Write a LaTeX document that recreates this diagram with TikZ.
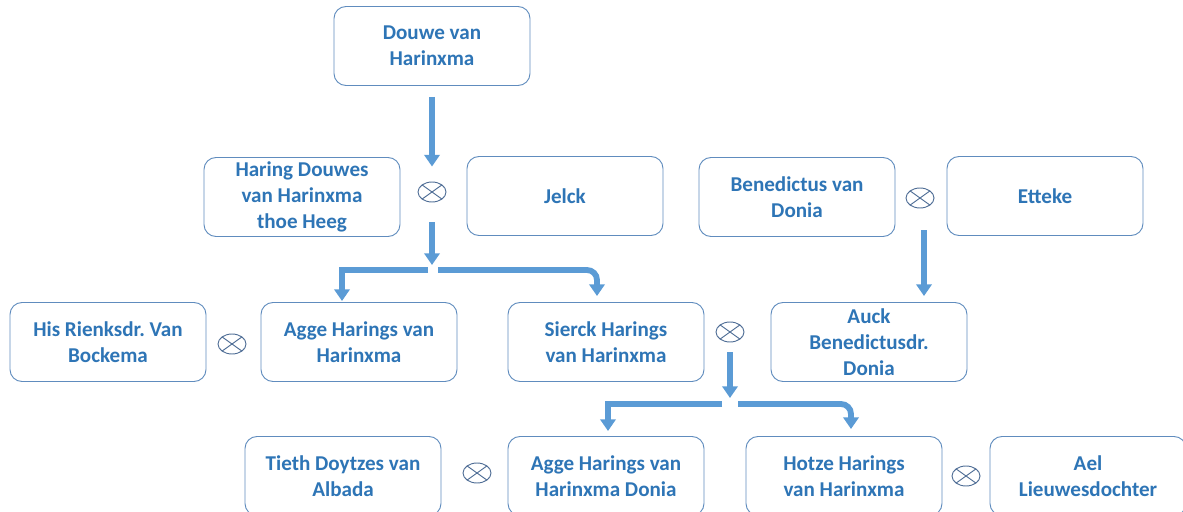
\documentclass[tikz,border=0pt]{standalone}
\usepackage{fontspec}
\setmainfont{Carlito}
\usepackage{xcolor}
\usetikzlibrary{shapes.geometric,arrows.meta}

\definecolor{boxline}{RGB}{96,140,190}
\definecolor{namecol}{RGB}{46,117,182}
\definecolor{linkcol}{RGB}{91,155,213}
\definecolor{marrcol}{RGB}{80,110,150}

\begin{document}
\frenchspacing
\begin{tikzpicture}[x=0.03cm,y=-0.03cm,
    person/.style={rounded corners=0.36cm, draw=boxline, thick, fill=white,
        minimum width=5.88cm, minimum height=2.37cm, align=center,
        text=namecol, font=\fontsize{18}{22}\selectfont\bfseries},
    married/.style={ellipse, draw=marrcol, thick, minimum width=0.84cm, minimum height=0.6cm,
        inner sep=0pt, path picture={
        \draw[marrcol, thick] (path picture bounding box.north west)--(path picture bounding box.south east);
        \draw[marrcol, thick] (path picture bounding box.south west)--(path picture bounding box.north east);}},
    famline/.style={draw=linkcol, line width=5pt, -{Triangle[width=13pt,length=10pt]}}]
    \useasboundingbox (0,0) rectangle (1183,512);

    %first generations
    \node[person] (douwe) at (432,46) {Douwe van\\Harinxma};
    \node[person] (haring) at (302,197) {Haring Douwes\\van Harinxma\\thoe Heeg};
    \node[married] (m1) at (432,192) {};
    \node[person] (jelck) at (565,196) {Jelck};
    \node[person] (bened) at (797,197) {Benedictus van\\Donia};
    \node[married] (m2) at (920,198) {};
    \node[person] (etteke) at (1045,196) {Etteke};

    %children
    \node[person] (his) at (108,342) {His Rienksdr. Van\\Bockema};
    \node[married] (m3) at (232,344) {};
    \node[person] (agge) at (359,342) {Agge Harings van\\Harinxma};
    \node[person] (sierck) at (606,342) {Sierck Harings\\van Harinxma};
    \node[married] (m4) at (730,332) {};
    \node[person] (auck) at (869,342) {Auck\\Benedictusdr.\\Donia};

    %grandchildren
    \node[person] (tieth) at (343,476) {Tieth Doytzes van\\Albada};
    \node[married] (m5) at (477,473) {};
    \node[person] (agged) at (606,476) {Agge Harings van\\Harinxma Donia};
    \node[person] (hotze) at (844,476) {Hotze Harings\\van Harinxma};
    \node[married] (m6) at (966,476) {};
    \node[person] (ael) at (1088,476) {Ael\\Lieuwesdochter};

    \coordinate (j1l) at (428,270);
    \coordinate (j1r) at (438,270);
    \coordinate (j2l) at (722,404);
    \coordinate (j2r) at (738,404);

    \path[famline] ([yshift=-0.33cm]douwe.south) -- ([yshift=0.45cm]m1.north);
    \path[famline] ([yshift=-0.6cm]m1.south) -- ([yshift=0.15cm]m1.south |- j1l);
    \path[famline] (j1l) -| ([xshift=-0.51cm,yshift=0.03cm]agge.north);
    \path[famline, rounded corners=0.3cm] (j1r) -| ([xshift=-0.27cm,yshift=0.18cm]sierck.north);
    \path[famline] ([xshift=0.12cm,yshift=-0.66cm]m2.south) -- ([xshift=0.12cm,yshift=0.18cm]m2.south |- auck.north);
    \path[famline] ([yshift=-0.3cm]m4.south) -- ([yshift=0.18cm]m4.south |- j2l);
    \path[famline] (j2l) -| ([xshift=0.06cm,yshift=0.15cm]agged.north);
    \path[famline, rounded corners=0.3cm] (j2r) -| ([xshift=0.21cm,yshift=0.21cm]hotze.north);
\end{tikzpicture}
\end{document}
